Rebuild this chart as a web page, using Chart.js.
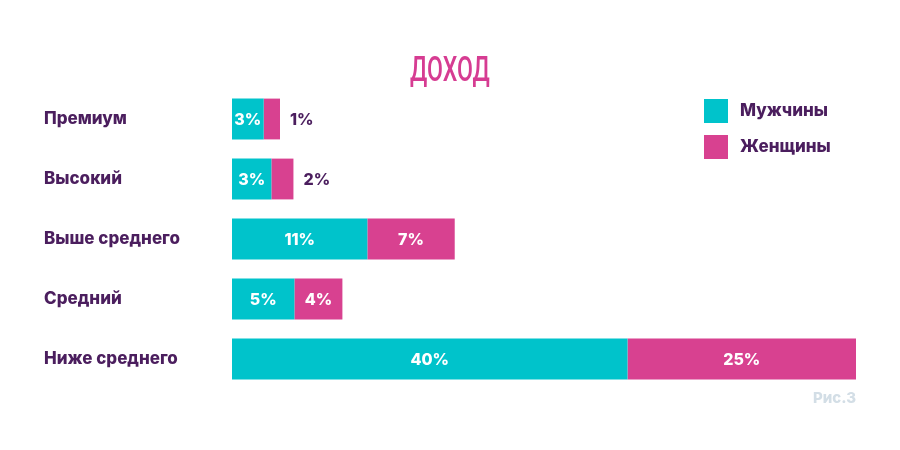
<!DOCTYPE html>
<html><head><meta charset="utf-8">
<script src="https://cdn.jsdelivr.net/npm/chart.js@4.4.0/dist/chart.umd.min.js"></script>
<style>
html,body{margin:0;padding:0;background:#fff;}
#wrap{position:relative;width:900px;height:450px;}
#title{position:absolute;left:0;width:900px;top:52px;text-align:center;font-family:Roboto,sans-serif;font-size:35px;font-weight:500;color:#D63C92;transform:scaleX(0.66);transform-origin:450px 0;line-height:1;}
</style></head>
<body><div id="wrap"><canvas id="c" width="900" height="450"></canvas><div id="title">ДОХОД</div></div>
<script>
const categories = ['Премиум', 'Высокий', 'Выше среднего', 'Средний', 'Ниже среднего'];
const seriesNames = ['Мужчины', 'Женщины'];
// bar lengths as drawn in the picture
const menValues = [3.3, 4.1, 14.1, 6.5, 41.2];
const womenValues = [1.7, 2.3, 9.1, 5.0, 23.8];
// printed labels
const menLabels = ['3%', '3%', '11%', '5%', '40%'];
const womenLabels = ['1%', '2%', '7%', '4%', '25%'];
const figureNote = 'Рис.3';

const TEAL = '#00C3CB', PINK = '#D84190', DARK = '#4B1E5E';
const LABEL_FONT = 'Inter, "Open Sans", sans-serif';

const barLabels = {
  id: 'barLabels',
  afterDatasetsDraw(chart) {
    const ctx = chart.ctx;
    const all = [menLabels, womenLabels];
    ctx.save();
    ctx.font = '800 16px ' + LABEL_FONT;
    ctx.textBaseline = 'middle';
    chart.data.datasets.forEach((ds, di) => {
      const meta = chart.getDatasetMeta(di);
      meta.data.forEach((el, i) => {
        const txt = all[di][i];
        const left = Math.min(el.base, el.x), right = Math.max(el.base, el.x);
        const w = right - left;
        if (w >= 28) {
          ctx.fillStyle = '#ffffff';
          ctx.textAlign = 'center';
          ctx.fillText(txt, (left + right) / 2, el.y + 1);
        } else {
          ctx.fillStyle = DARK;
          ctx.textAlign = 'left';
          ctx.fillText(txt, right + 10, el.y + 1);
        }
      });
    });
    ctx.restore();
  }
};

const sideLegend = {
  id: 'sideLegend',
  afterDraw(chart) {
    const ctx = chart.ctx;
    ctx.save();
    chart.data.datasets.forEach((ds, i) => {
      const y = 99 + i * 36;
      ctx.fillStyle = ds.backgroundColor;
      ctx.fillRect(704, y, 24, 24);
      ctx.fillStyle = DARK;
      ctx.font = '800 17px ' + LABEL_FONT;
      ctx.textAlign = 'left';
      ctx.textBaseline = 'middle';
      ctx.fillText(ds.label, 740, y + 12);
    });
    ctx.fillStyle = '#D3DEE6';
    ctx.font = '800 15px ' + LABEL_FONT;
    ctx.textAlign = 'right';
    ctx.textBaseline = 'middle';
    ctx.fillText(figureNote, 856, 398);
    ctx.restore();
  }
};

new Chart(document.getElementById('c'), {
  type: 'bar',
  data: {
    labels: categories,
    datasets: [
      { label: seriesNames[0], data: menValues, backgroundColor: TEAL, borderWidth: 0 },
      { label: seriesNames[1], data: womenValues, backgroundColor: PINK, borderWidth: 0 }
    ]
  },
  options: {
    indexAxis: 'y',
    responsive: false,
    animation: false,
    devicePixelRatio: 1,
    layout: { padding: { left: 44, right: 44, top: 89, bottom: 61 } },
    datasets: { bar: { categoryPercentage: 1, barPercentage: 0.68 } },
    plugins: { legend: { display: false }, tooltip: { enabled: false }, title: { display: false } },
    scales: {
      x: { stacked: true, display: false, min: 0, max: 65 },
      y: {
        stacked: true,
        grid: { display: false },
        border: { display: false },
        ticks: { crossAlign: 'far', color: DARK, padding: 0, font: { family: LABEL_FONT, weight: 800, size: 17 } },
        afterFit(s) { s.width = 188; }
      }
    }
  },
  plugins: [barLabels, sideLegend]
});
</script>
</body></html>
